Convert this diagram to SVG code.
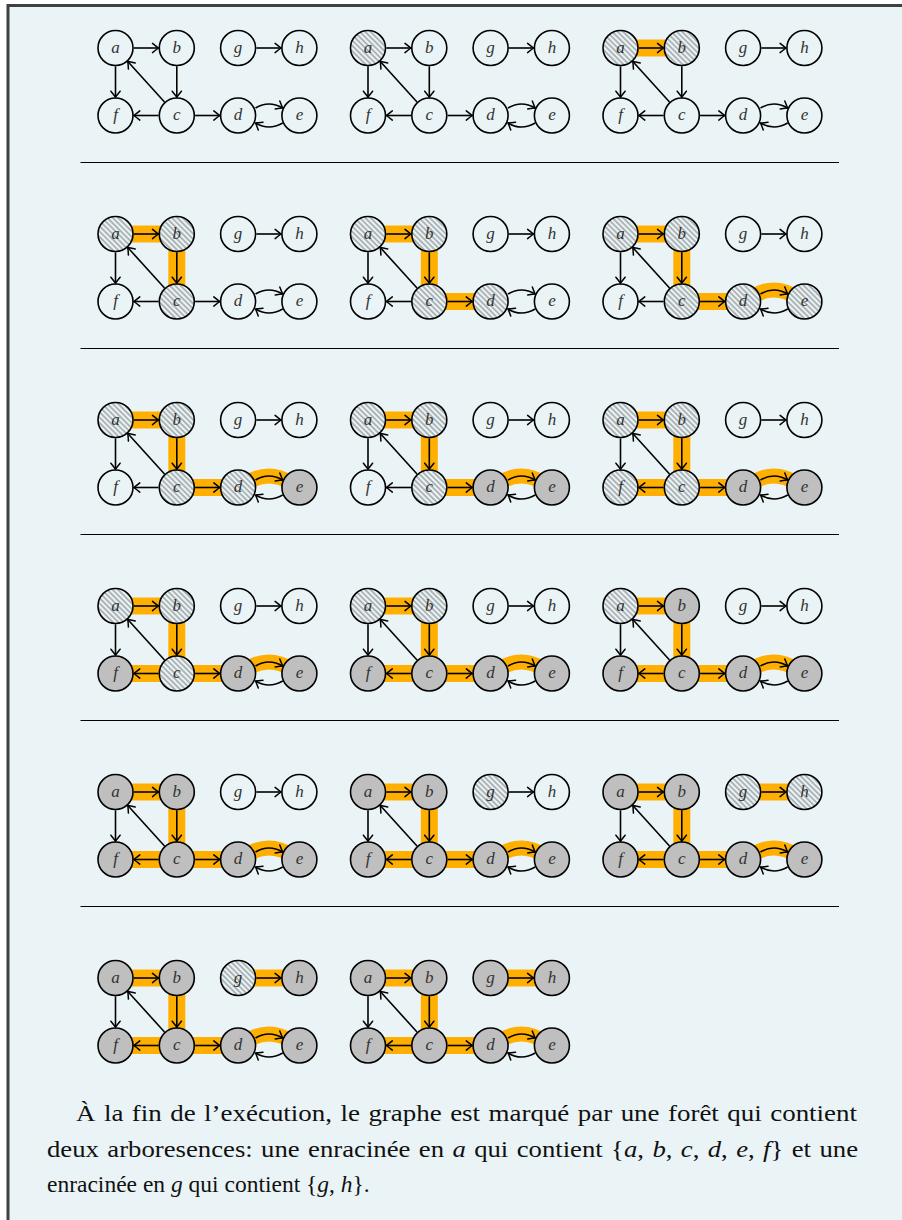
<svg xmlns="http://www.w3.org/2000/svg" width="902" height="1220" viewBox="0 0 902 1220">
<style>
.frame{fill:#EAF4F6;stroke:#404040;stroke-width:3}
.sep{stroke:#000;stroke-width:1.2}
.hl path{fill:none;stroke:#FFAF00;stroke-width:17;stroke-linecap:butt}
.hl path.cv{stroke-width:15}
circle{stroke:#000;stroke-width:1.6}
.nw{fill:#EAF4F6}
.nh{fill:url(#hatch)}
.ng{fill:#BFBFBF}
.lb{font-family:"Liberation Serif",serif;font-style:italic;font-size:17px;fill:#333;text-anchor:middle}
.connectors path{fill:none;stroke:#000;stroke-width:1.6;marker-end:url(#ar)}
.body{font-family:"Liberation Serif",serif;font-size:23.5px;fill:#111}
.just{word-spacing:1.5px}
.m{font-style:italic}
</style>
<defs>
<pattern id="hatch" patternUnits="userSpaceOnUse" width="3.8" height="3.8" patternTransform="rotate(45)">
<rect width="3.8" height="3.8" fill="#EAF4F6"/>
<line x1="0" y1="1.9" x2="3.8" y2="1.9" stroke="#5a5a5a" stroke-width="0.8"/>
</pattern>
<marker id="ar" markerUnits="userSpaceOnUse" markerWidth="12" markerHeight="12" refX="0" refY="0" orient="auto" overflow="visible">
<path d="M-6,-4.6 Q-1.8,-1.2 0,0 Q-1.8,1.2 -6,4.6" fill="none" stroke="#000" stroke-width="1.5" stroke-linecap="round"/>
</marker>
</defs>
<rect class="frame" x="8" y="5.5" width="1000" height="1300"/>
<g id="separators">
<line class="sep" x1="80.5" y1="162.5" x2="839" y2="162.5"/>
<line class="sep" x1="80.5" y1="348.5" x2="839" y2="348.5"/>
<line class="sep" x1="80.5" y1="534.5" x2="839" y2="534.5"/>
<line class="sep" x1="80.5" y1="720.5" x2="839" y2="720.5"/>
<line class="sep" x1="80.5" y1="906.5" x2="839" y2="906.5"/>
</g>

<!-- Panel 1 -->
<g id="panel1" transform="translate(115.5,48)">
<g class="hl"></g>
<g id="p1-a"><circle class="nw" cx="0" cy="0" r="17.5"/><text class="lb" x="0" y="4.5">a</text></g>
<g id="p1-b"><circle class="nw" cx="61.3" cy="0" r="17.5"/><text class="lb" x="61.3" y="4.5">b</text></g>
<g id="p1-g"><circle class="nw" cx="122.6" cy="0" r="17.5"/><text class="lb" x="122.6" y="4.5">g</text></g>
<g id="p1-h"><circle class="nw" cx="183.9" cy="0" r="17.5"/><text class="lb" x="183.9" y="4.5">h</text></g>
<g id="p1-f"><circle class="nw" cx="0" cy="67.5" r="17.5"/><text class="lb" x="0" y="72">f</text></g>
<g id="p1-c"><circle class="nw" cx="61.3" cy="67.5" r="17.5"/><text class="lb" x="61.3" y="72">c</text></g>
<g id="p1-d"><circle class="nw" cx="122.6" cy="67.5" r="17.5"/><text class="lb" x="122.6" y="72">d</text></g>
<g id="p1-e"><circle class="nw" cx="183.9" cy="67.5" r="17.5"/><text class="lb" x="183.9" y="72">e</text></g>
<g class="connectors" id="p1-edges">
<path d="M18.3,0H43"/><path d="M140.9,0H165.6"/><path d="M0,18.3V49.2"/><path d="M61.3,18.3V49.2"/><path d="M43,67.5H18.3"/><path d="M79.6,67.5H104.3"/><path d="M49,53.95L12.3,13.55"/><path d="M140,60Q153.3,52 167.2,60"/><path d="M167.2,75Q153.3,83 140,75"/>
</g>
</g>

<!-- Panel 2 -->
<g id="panel2" transform="translate(368,48)">
<g class="hl"></g>
<g id="p2-a"><circle class="nh" cx="0" cy="0" r="17.5"/><text class="lb" x="0" y="4.5">a</text></g>
<g id="p2-b"><circle class="nw" cx="61.3" cy="0" r="17.5"/><text class="lb" x="61.3" y="4.5">b</text></g>
<g id="p2-g"><circle class="nw" cx="122.6" cy="0" r="17.5"/><text class="lb" x="122.6" y="4.5">g</text></g>
<g id="p2-h"><circle class="nw" cx="183.9" cy="0" r="17.5"/><text class="lb" x="183.9" y="4.5">h</text></g>
<g id="p2-f"><circle class="nw" cx="0" cy="67.5" r="17.5"/><text class="lb" x="0" y="72">f</text></g>
<g id="p2-c"><circle class="nw" cx="61.3" cy="67.5" r="17.5"/><text class="lb" x="61.3" y="72">c</text></g>
<g id="p2-d"><circle class="nw" cx="122.6" cy="67.5" r="17.5"/><text class="lb" x="122.6" y="72">d</text></g>
<g id="p2-e"><circle class="nw" cx="183.9" cy="67.5" r="17.5"/><text class="lb" x="183.9" y="72">e</text></g>
<g class="connectors" id="p2-edges">
<path d="M18.3,0H43"/><path d="M140.9,0H165.6"/><path d="M0,18.3V49.2"/><path d="M61.3,18.3V49.2"/><path d="M43,67.5H18.3"/><path d="M79.6,67.5H104.3"/><path d="M49,53.95L12.3,13.55"/><path d="M140,60Q153.3,52 167.2,60"/><path d="M167.2,75Q153.3,83 140,75"/>
</g>
</g>

<!-- Panel 3 -->
<g id="panel3" transform="translate(620.5,48)">
<g class="hl"><path d="M0,0H61.3"/></g>
<g id="p3-a"><circle class="nh" cx="0" cy="0" r="17.5"/><text class="lb" x="0" y="4.5">a</text></g>
<g id="p3-b"><circle class="nh" cx="61.3" cy="0" r="17.5"/><text class="lb" x="61.3" y="4.5">b</text></g>
<g id="p3-g"><circle class="nw" cx="122.6" cy="0" r="17.5"/><text class="lb" x="122.6" y="4.5">g</text></g>
<g id="p3-h"><circle class="nw" cx="183.9" cy="0" r="17.5"/><text class="lb" x="183.9" y="4.5">h</text></g>
<g id="p3-f"><circle class="nw" cx="0" cy="67.5" r="17.5"/><text class="lb" x="0" y="72">f</text></g>
<g id="p3-c"><circle class="nw" cx="61.3" cy="67.5" r="17.5"/><text class="lb" x="61.3" y="72">c</text></g>
<g id="p3-d"><circle class="nw" cx="122.6" cy="67.5" r="17.5"/><text class="lb" x="122.6" y="72">d</text></g>
<g id="p3-e"><circle class="nw" cx="183.9" cy="67.5" r="17.5"/><text class="lb" x="183.9" y="72">e</text></g>
<g class="connectors" id="p3-edges">
<path d="M18.3,0H43"/><path d="M140.9,0H165.6"/><path d="M0,18.3V49.2"/><path d="M61.3,18.3V49.2"/><path d="M43,67.5H18.3"/><path d="M79.6,67.5H104.3"/><path d="M49,53.95L12.3,13.55"/><path d="M140,60Q153.3,52 167.2,60"/><path d="M167.2,75Q153.3,83 140,75"/>
</g>
</g>

<!-- Panel 4 -->
<g id="panel4" transform="translate(115.5,234)">
<g class="hl"><path d="M0,0H61.3"/><path d="M61.3,0V67.5"/></g>
<g id="p4-a"><circle class="nh" cx="0" cy="0" r="17.5"/><text class="lb" x="0" y="4.5">a</text></g>
<g id="p4-b"><circle class="nh" cx="61.3" cy="0" r="17.5"/><text class="lb" x="61.3" y="4.5">b</text></g>
<g id="p4-g"><circle class="nw" cx="122.6" cy="0" r="17.5"/><text class="lb" x="122.6" y="4.5">g</text></g>
<g id="p4-h"><circle class="nw" cx="183.9" cy="0" r="17.5"/><text class="lb" x="183.9" y="4.5">h</text></g>
<g id="p4-f"><circle class="nw" cx="0" cy="67.5" r="17.5"/><text class="lb" x="0" y="72">f</text></g>
<g id="p4-c"><circle class="nh" cx="61.3" cy="67.5" r="17.5"/><text class="lb" x="61.3" y="72">c</text></g>
<g id="p4-d"><circle class="nw" cx="122.6" cy="67.5" r="17.5"/><text class="lb" x="122.6" y="72">d</text></g>
<g id="p4-e"><circle class="nw" cx="183.9" cy="67.5" r="17.5"/><text class="lb" x="183.9" y="72">e</text></g>
<g class="connectors" id="p4-edges">
<path d="M18.3,0H43"/><path d="M140.9,0H165.6"/><path d="M0,18.3V49.2"/><path d="M61.3,18.3V49.2"/><path d="M43,67.5H18.3"/><path d="M79.6,67.5H104.3"/><path d="M49,53.95L12.3,13.55"/><path d="M140,60Q153.3,52 167.2,60"/><path d="M167.2,75Q153.3,83 140,75"/>
</g>
</g>

<!-- Panel 5 -->
<g id="panel5" transform="translate(368,234)">
<g class="hl"><path d="M0,0H61.3"/><path d="M61.3,0V67.5"/><path d="M61.3,67.5H122.6"/></g>
<g id="p5-a"><circle class="nh" cx="0" cy="0" r="17.5"/><text class="lb" x="0" y="4.5">a</text></g>
<g id="p5-b"><circle class="nh" cx="61.3" cy="0" r="17.5"/><text class="lb" x="61.3" y="4.5">b</text></g>
<g id="p5-g"><circle class="nw" cx="122.6" cy="0" r="17.5"/><text class="lb" x="122.6" y="4.5">g</text></g>
<g id="p5-h"><circle class="nw" cx="183.9" cy="0" r="17.5"/><text class="lb" x="183.9" y="4.5">h</text></g>
<g id="p5-f"><circle class="nw" cx="0" cy="67.5" r="17.5"/><text class="lb" x="0" y="72">f</text></g>
<g id="p5-c"><circle class="nh" cx="61.3" cy="67.5" r="17.5"/><text class="lb" x="61.3" y="72">c</text></g>
<g id="p5-d"><circle class="nh" cx="122.6" cy="67.5" r="17.5"/><text class="lb" x="122.6" y="72">d</text></g>
<g id="p5-e"><circle class="nw" cx="183.9" cy="67.5" r="17.5"/><text class="lb" x="183.9" y="72">e</text></g>
<g class="connectors" id="p5-edges">
<path d="M18.3,0H43"/><path d="M140.9,0H165.6"/><path d="M0,18.3V49.2"/><path d="M61.3,18.3V49.2"/><path d="M43,67.5H18.3"/><path d="M79.6,67.5H104.3"/><path d="M49,53.95L12.3,13.55"/><path d="M140,60Q153.3,52 167.2,60"/><path d="M167.2,75Q153.3,83 140,75"/>
</g>
</g>

<!-- Panel 6 -->
<g id="panel6" transform="translate(620.5,234)">
<g class="hl"><path d="M0,0H61.3"/><path d="M61.3,0V67.5"/><path d="M61.3,67.5H122.6"/><path class="cv" d="M130,63.5Q153.3,48.5 176.5,63.5"/></g>
<g id="p6-a"><circle class="nh" cx="0" cy="0" r="17.5"/><text class="lb" x="0" y="4.5">a</text></g>
<g id="p6-b"><circle class="nh" cx="61.3" cy="0" r="17.5"/><text class="lb" x="61.3" y="4.5">b</text></g>
<g id="p6-g"><circle class="nw" cx="122.6" cy="0" r="17.5"/><text class="lb" x="122.6" y="4.5">g</text></g>
<g id="p6-h"><circle class="nw" cx="183.9" cy="0" r="17.5"/><text class="lb" x="183.9" y="4.5">h</text></g>
<g id="p6-f"><circle class="nw" cx="0" cy="67.5" r="17.5"/><text class="lb" x="0" y="72">f</text></g>
<g id="p6-c"><circle class="nh" cx="61.3" cy="67.5" r="17.5"/><text class="lb" x="61.3" y="72">c</text></g>
<g id="p6-d"><circle class="nh" cx="122.6" cy="67.5" r="17.5"/><text class="lb" x="122.6" y="72">d</text></g>
<g id="p6-e"><circle class="nh" cx="183.9" cy="67.5" r="17.5"/><text class="lb" x="183.9" y="72">e</text></g>
<g class="connectors" id="p6-edges">
<path d="M18.3,0H43"/><path d="M140.9,0H165.6"/><path d="M0,18.3V49.2"/><path d="M61.3,18.3V49.2"/><path d="M43,67.5H18.3"/><path d="M79.6,67.5H104.3"/><path d="M49,53.95L12.3,13.55"/><path d="M140,60Q153.3,52 167.2,60"/><path d="M167.2,75Q153.3,83 140,75"/>
</g>
</g>

<!-- Panel 7 -->
<g id="panel7" transform="translate(115.5,420)">
<g class="hl"><path d="M0,0H61.3"/><path d="M61.3,0V67.5"/><path d="M61.3,67.5H122.6"/><path class="cv" d="M130,63.5Q153.3,48.5 176.5,63.5"/></g>
<g id="p7-a"><circle class="nh" cx="0" cy="0" r="17.5"/><text class="lb" x="0" y="4.5">a</text></g>
<g id="p7-b"><circle class="nh" cx="61.3" cy="0" r="17.5"/><text class="lb" x="61.3" y="4.5">b</text></g>
<g id="p7-g"><circle class="nw" cx="122.6" cy="0" r="17.5"/><text class="lb" x="122.6" y="4.5">g</text></g>
<g id="p7-h"><circle class="nw" cx="183.9" cy="0" r="17.5"/><text class="lb" x="183.9" y="4.5">h</text></g>
<g id="p7-f"><circle class="nw" cx="0" cy="67.5" r="17.5"/><text class="lb" x="0" y="72">f</text></g>
<g id="p7-c"><circle class="nh" cx="61.3" cy="67.5" r="17.5"/><text class="lb" x="61.3" y="72">c</text></g>
<g id="p7-d"><circle class="nh" cx="122.6" cy="67.5" r="17.5"/><text class="lb" x="122.6" y="72">d</text></g>
<g id="p7-e"><circle class="ng" cx="183.9" cy="67.5" r="17.5"/><text class="lb" x="183.9" y="72">e</text></g>
<g class="connectors" id="p7-edges">
<path d="M18.3,0H43"/><path d="M140.9,0H165.6"/><path d="M0,18.3V49.2"/><path d="M61.3,18.3V49.2"/><path d="M43,67.5H18.3"/><path d="M79.6,67.5H104.3"/><path d="M49,53.95L12.3,13.55"/><path d="M140,60Q153.3,52 167.2,60"/><path d="M167.2,75Q153.3,83 140,75"/>
</g>
</g>

<!-- Panel 8 -->
<g id="panel8" transform="translate(368,420)">
<g class="hl"><path d="M0,0H61.3"/><path d="M61.3,0V67.5"/><path d="M61.3,67.5H122.6"/><path class="cv" d="M130,63.5Q153.3,48.5 176.5,63.5"/></g>
<g id="p8-a"><circle class="nh" cx="0" cy="0" r="17.5"/><text class="lb" x="0" y="4.5">a</text></g>
<g id="p8-b"><circle class="nh" cx="61.3" cy="0" r="17.5"/><text class="lb" x="61.3" y="4.5">b</text></g>
<g id="p8-g"><circle class="nw" cx="122.6" cy="0" r="17.5"/><text class="lb" x="122.6" y="4.5">g</text></g>
<g id="p8-h"><circle class="nw" cx="183.9" cy="0" r="17.5"/><text class="lb" x="183.9" y="4.5">h</text></g>
<g id="p8-f"><circle class="nw" cx="0" cy="67.5" r="17.5"/><text class="lb" x="0" y="72">f</text></g>
<g id="p8-c"><circle class="nh" cx="61.3" cy="67.5" r="17.5"/><text class="lb" x="61.3" y="72">c</text></g>
<g id="p8-d"><circle class="ng" cx="122.6" cy="67.5" r="17.5"/><text class="lb" x="122.6" y="72">d</text></g>
<g id="p8-e"><circle class="ng" cx="183.9" cy="67.5" r="17.5"/><text class="lb" x="183.9" y="72">e</text></g>
<g class="connectors" id="p8-edges">
<path d="M18.3,0H43"/><path d="M140.9,0H165.6"/><path d="M0,18.3V49.2"/><path d="M61.3,18.3V49.2"/><path d="M43,67.5H18.3"/><path d="M79.6,67.5H104.3"/><path d="M49,53.95L12.3,13.55"/><path d="M140,60Q153.3,52 167.2,60"/><path d="M167.2,75Q153.3,83 140,75"/>
</g>
</g>

<!-- Panel 9 -->
<g id="panel9" transform="translate(620.5,420)">
<g class="hl"><path d="M0,0H61.3"/><path d="M61.3,0V67.5"/><path d="M61.3,67.5H122.6"/><path class="cv" d="M130,63.5Q153.3,48.5 176.5,63.5"/><path d="M61.3,67.5H0"/></g>
<g id="p9-a"><circle class="nh" cx="0" cy="0" r="17.5"/><text class="lb" x="0" y="4.5">a</text></g>
<g id="p9-b"><circle class="nh" cx="61.3" cy="0" r="17.5"/><text class="lb" x="61.3" y="4.5">b</text></g>
<g id="p9-g"><circle class="nw" cx="122.6" cy="0" r="17.5"/><text class="lb" x="122.6" y="4.5">g</text></g>
<g id="p9-h"><circle class="nw" cx="183.9" cy="0" r="17.5"/><text class="lb" x="183.9" y="4.5">h</text></g>
<g id="p9-f"><circle class="nh" cx="0" cy="67.5" r="17.5"/><text class="lb" x="0" y="72">f</text></g>
<g id="p9-c"><circle class="nh" cx="61.3" cy="67.5" r="17.5"/><text class="lb" x="61.3" y="72">c</text></g>
<g id="p9-d"><circle class="ng" cx="122.6" cy="67.5" r="17.5"/><text class="lb" x="122.6" y="72">d</text></g>
<g id="p9-e"><circle class="ng" cx="183.9" cy="67.5" r="17.5"/><text class="lb" x="183.9" y="72">e</text></g>
<g class="connectors" id="p9-edges">
<path d="M18.3,0H43"/><path d="M140.9,0H165.6"/><path d="M0,18.3V49.2"/><path d="M61.3,18.3V49.2"/><path d="M43,67.5H18.3"/><path d="M79.6,67.5H104.3"/><path d="M49,53.95L12.3,13.55"/><path d="M140,60Q153.3,52 167.2,60"/><path d="M167.2,75Q153.3,83 140,75"/>
</g>
</g>

<!-- Panel 10 -->
<g id="panel10" transform="translate(115.5,606)">
<g class="hl"><path d="M0,0H61.3"/><path d="M61.3,0V67.5"/><path d="M61.3,67.5H122.6"/><path class="cv" d="M130,63.5Q153.3,48.5 176.5,63.5"/><path d="M61.3,67.5H0"/></g>
<g id="p10-a"><circle class="nh" cx="0" cy="0" r="17.5"/><text class="lb" x="0" y="4.5">a</text></g>
<g id="p10-b"><circle class="nh" cx="61.3" cy="0" r="17.5"/><text class="lb" x="61.3" y="4.5">b</text></g>
<g id="p10-g"><circle class="nw" cx="122.6" cy="0" r="17.5"/><text class="lb" x="122.6" y="4.5">g</text></g>
<g id="p10-h"><circle class="nw" cx="183.9" cy="0" r="17.5"/><text class="lb" x="183.9" y="4.5">h</text></g>
<g id="p10-f"><circle class="ng" cx="0" cy="67.5" r="17.5"/><text class="lb" x="0" y="72">f</text></g>
<g id="p10-c"><circle class="nh" cx="61.3" cy="67.5" r="17.5"/><text class="lb" x="61.3" y="72">c</text></g>
<g id="p10-d"><circle class="ng" cx="122.6" cy="67.5" r="17.5"/><text class="lb" x="122.6" y="72">d</text></g>
<g id="p10-e"><circle class="ng" cx="183.9" cy="67.5" r="17.5"/><text class="lb" x="183.9" y="72">e</text></g>
<g class="connectors" id="p10-edges">
<path d="M18.3,0H43"/><path d="M140.9,0H165.6"/><path d="M0,18.3V49.2"/><path d="M61.3,18.3V49.2"/><path d="M43,67.5H18.3"/><path d="M79.6,67.5H104.3"/><path d="M49,53.95L12.3,13.55"/><path d="M140,60Q153.3,52 167.2,60"/><path d="M167.2,75Q153.3,83 140,75"/>
</g>
</g>

<!-- Panel 11 -->
<g id="panel11" transform="translate(368,606)">
<g class="hl"><path d="M0,0H61.3"/><path d="M61.3,0V67.5"/><path d="M61.3,67.5H122.6"/><path class="cv" d="M130,63.5Q153.3,48.5 176.5,63.5"/><path d="M61.3,67.5H0"/></g>
<g id="p11-a"><circle class="nh" cx="0" cy="0" r="17.5"/><text class="lb" x="0" y="4.5">a</text></g>
<g id="p11-b"><circle class="nh" cx="61.3" cy="0" r="17.5"/><text class="lb" x="61.3" y="4.5">b</text></g>
<g id="p11-g"><circle class="nw" cx="122.6" cy="0" r="17.5"/><text class="lb" x="122.6" y="4.5">g</text></g>
<g id="p11-h"><circle class="nw" cx="183.9" cy="0" r="17.5"/><text class="lb" x="183.9" y="4.5">h</text></g>
<g id="p11-f"><circle class="ng" cx="0" cy="67.5" r="17.5"/><text class="lb" x="0" y="72">f</text></g>
<g id="p11-c"><circle class="ng" cx="61.3" cy="67.5" r="17.5"/><text class="lb" x="61.3" y="72">c</text></g>
<g id="p11-d"><circle class="ng" cx="122.6" cy="67.5" r="17.5"/><text class="lb" x="122.6" y="72">d</text></g>
<g id="p11-e"><circle class="ng" cx="183.9" cy="67.5" r="17.5"/><text class="lb" x="183.9" y="72">e</text></g>
<g class="connectors" id="p11-edges">
<path d="M18.3,0H43"/><path d="M140.9,0H165.6"/><path d="M0,18.3V49.2"/><path d="M61.3,18.3V49.2"/><path d="M43,67.5H18.3"/><path d="M79.6,67.5H104.3"/><path d="M49,53.95L12.3,13.55"/><path d="M140,60Q153.3,52 167.2,60"/><path d="M167.2,75Q153.3,83 140,75"/>
</g>
</g>

<!-- Panel 12 -->
<g id="panel12" transform="translate(620.5,606)">
<g class="hl"><path d="M0,0H61.3"/><path d="M61.3,0V67.5"/><path d="M61.3,67.5H122.6"/><path class="cv" d="M130,63.5Q153.3,48.5 176.5,63.5"/><path d="M61.3,67.5H0"/></g>
<g id="p12-a"><circle class="nh" cx="0" cy="0" r="17.5"/><text class="lb" x="0" y="4.5">a</text></g>
<g id="p12-b"><circle class="ng" cx="61.3" cy="0" r="17.5"/><text class="lb" x="61.3" y="4.5">b</text></g>
<g id="p12-g"><circle class="nw" cx="122.6" cy="0" r="17.5"/><text class="lb" x="122.6" y="4.5">g</text></g>
<g id="p12-h"><circle class="nw" cx="183.9" cy="0" r="17.5"/><text class="lb" x="183.9" y="4.5">h</text></g>
<g id="p12-f"><circle class="ng" cx="0" cy="67.5" r="17.5"/><text class="lb" x="0" y="72">f</text></g>
<g id="p12-c"><circle class="ng" cx="61.3" cy="67.5" r="17.5"/><text class="lb" x="61.3" y="72">c</text></g>
<g id="p12-d"><circle class="ng" cx="122.6" cy="67.5" r="17.5"/><text class="lb" x="122.6" y="72">d</text></g>
<g id="p12-e"><circle class="ng" cx="183.9" cy="67.5" r="17.5"/><text class="lb" x="183.9" y="72">e</text></g>
<g class="connectors" id="p12-edges">
<path d="M18.3,0H43"/><path d="M140.9,0H165.6"/><path d="M0,18.3V49.2"/><path d="M61.3,18.3V49.2"/><path d="M43,67.5H18.3"/><path d="M79.6,67.5H104.3"/><path d="M49,53.95L12.3,13.55"/><path d="M140,60Q153.3,52 167.2,60"/><path d="M167.2,75Q153.3,83 140,75"/>
</g>
</g>

<!-- Panel 13 -->
<g id="panel13" transform="translate(115.5,792)">
<g class="hl"><path d="M0,0H61.3"/><path d="M61.3,0V67.5"/><path d="M61.3,67.5H122.6"/><path class="cv" d="M130,63.5Q153.3,48.5 176.5,63.5"/><path d="M61.3,67.5H0"/></g>
<g id="p13-a"><circle class="ng" cx="0" cy="0" r="17.5"/><text class="lb" x="0" y="4.5">a</text></g>
<g id="p13-b"><circle class="ng" cx="61.3" cy="0" r="17.5"/><text class="lb" x="61.3" y="4.5">b</text></g>
<g id="p13-g"><circle class="nw" cx="122.6" cy="0" r="17.5"/><text class="lb" x="122.6" y="4.5">g</text></g>
<g id="p13-h"><circle class="nw" cx="183.9" cy="0" r="17.5"/><text class="lb" x="183.9" y="4.5">h</text></g>
<g id="p13-f"><circle class="ng" cx="0" cy="67.5" r="17.5"/><text class="lb" x="0" y="72">f</text></g>
<g id="p13-c"><circle class="ng" cx="61.3" cy="67.5" r="17.5"/><text class="lb" x="61.3" y="72">c</text></g>
<g id="p13-d"><circle class="ng" cx="122.6" cy="67.5" r="17.5"/><text class="lb" x="122.6" y="72">d</text></g>
<g id="p13-e"><circle class="ng" cx="183.9" cy="67.5" r="17.5"/><text class="lb" x="183.9" y="72">e</text></g>
<g class="connectors" id="p13-edges">
<path d="M18.3,0H43"/><path d="M140.9,0H165.6"/><path d="M0,18.3V49.2"/><path d="M61.3,18.3V49.2"/><path d="M43,67.5H18.3"/><path d="M79.6,67.5H104.3"/><path d="M49,53.95L12.3,13.55"/><path d="M140,60Q153.3,52 167.2,60"/><path d="M167.2,75Q153.3,83 140,75"/>
</g>
</g>

<!-- Panel 14 -->
<g id="panel14" transform="translate(368,792)">
<g class="hl"><path d="M0,0H61.3"/><path d="M61.3,0V67.5"/><path d="M61.3,67.5H122.6"/><path class="cv" d="M130,63.5Q153.3,48.5 176.5,63.5"/><path d="M61.3,67.5H0"/></g>
<g id="p14-a"><circle class="ng" cx="0" cy="0" r="17.5"/><text class="lb" x="0" y="4.5">a</text></g>
<g id="p14-b"><circle class="ng" cx="61.3" cy="0" r="17.5"/><text class="lb" x="61.3" y="4.5">b</text></g>
<g id="p14-g"><circle class="nh" cx="122.6" cy="0" r="17.5"/><text class="lb" x="122.6" y="4.5">g</text></g>
<g id="p14-h"><circle class="nw" cx="183.9" cy="0" r="17.5"/><text class="lb" x="183.9" y="4.5">h</text></g>
<g id="p14-f"><circle class="ng" cx="0" cy="67.5" r="17.5"/><text class="lb" x="0" y="72">f</text></g>
<g id="p14-c"><circle class="ng" cx="61.3" cy="67.5" r="17.5"/><text class="lb" x="61.3" y="72">c</text></g>
<g id="p14-d"><circle class="ng" cx="122.6" cy="67.5" r="17.5"/><text class="lb" x="122.6" y="72">d</text></g>
<g id="p14-e"><circle class="ng" cx="183.9" cy="67.5" r="17.5"/><text class="lb" x="183.9" y="72">e</text></g>
<g class="connectors" id="p14-edges">
<path d="M18.3,0H43"/><path d="M140.9,0H165.6"/><path d="M0,18.3V49.2"/><path d="M61.3,18.3V49.2"/><path d="M43,67.5H18.3"/><path d="M79.6,67.5H104.3"/><path d="M49,53.95L12.3,13.55"/><path d="M140,60Q153.3,52 167.2,60"/><path d="M167.2,75Q153.3,83 140,75"/>
</g>
</g>

<!-- Panel 15 -->
<g id="panel15" transform="translate(620.5,792)">
<g class="hl"><path d="M0,0H61.3"/><path d="M61.3,0V67.5"/><path d="M61.3,67.5H122.6"/><path class="cv" d="M130,63.5Q153.3,48.5 176.5,63.5"/><path d="M61.3,67.5H0"/><path d="M122.6,0H183.9"/></g>
<g id="p15-a"><circle class="ng" cx="0" cy="0" r="17.5"/><text class="lb" x="0" y="4.5">a</text></g>
<g id="p15-b"><circle class="ng" cx="61.3" cy="0" r="17.5"/><text class="lb" x="61.3" y="4.5">b</text></g>
<g id="p15-g"><circle class="nh" cx="122.6" cy="0" r="17.5"/><text class="lb" x="122.6" y="4.5">g</text></g>
<g id="p15-h"><circle class="nh" cx="183.9" cy="0" r="17.5"/><text class="lb" x="183.9" y="4.5">h</text></g>
<g id="p15-f"><circle class="ng" cx="0" cy="67.5" r="17.5"/><text class="lb" x="0" y="72">f</text></g>
<g id="p15-c"><circle class="ng" cx="61.3" cy="67.5" r="17.5"/><text class="lb" x="61.3" y="72">c</text></g>
<g id="p15-d"><circle class="ng" cx="122.6" cy="67.5" r="17.5"/><text class="lb" x="122.6" y="72">d</text></g>
<g id="p15-e"><circle class="ng" cx="183.9" cy="67.5" r="17.5"/><text class="lb" x="183.9" y="72">e</text></g>
<g class="connectors" id="p15-edges">
<path d="M18.3,0H43"/><path d="M140.9,0H165.6"/><path d="M0,18.3V49.2"/><path d="M61.3,18.3V49.2"/><path d="M43,67.5H18.3"/><path d="M79.6,67.5H104.3"/><path d="M49,53.95L12.3,13.55"/><path d="M140,60Q153.3,52 167.2,60"/><path d="M167.2,75Q153.3,83 140,75"/>
</g>
</g>

<!-- Panel 16 -->
<g id="panel16" transform="translate(115.5,978)">
<g class="hl"><path d="M0,0H61.3"/><path d="M61.3,0V67.5"/><path d="M61.3,67.5H122.6"/><path class="cv" d="M130,63.5Q153.3,48.5 176.5,63.5"/><path d="M61.3,67.5H0"/><path d="M122.6,0H183.9"/></g>
<g id="p16-a"><circle class="ng" cx="0" cy="0" r="17.5"/><text class="lb" x="0" y="4.5">a</text></g>
<g id="p16-b"><circle class="ng" cx="61.3" cy="0" r="17.5"/><text class="lb" x="61.3" y="4.5">b</text></g>
<g id="p16-g"><circle class="nh" cx="122.6" cy="0" r="17.5"/><text class="lb" x="122.6" y="4.5">g</text></g>
<g id="p16-h"><circle class="ng" cx="183.9" cy="0" r="17.5"/><text class="lb" x="183.9" y="4.5">h</text></g>
<g id="p16-f"><circle class="ng" cx="0" cy="67.5" r="17.5"/><text class="lb" x="0" y="72">f</text></g>
<g id="p16-c"><circle class="ng" cx="61.3" cy="67.5" r="17.5"/><text class="lb" x="61.3" y="72">c</text></g>
<g id="p16-d"><circle class="ng" cx="122.6" cy="67.5" r="17.5"/><text class="lb" x="122.6" y="72">d</text></g>
<g id="p16-e"><circle class="ng" cx="183.9" cy="67.5" r="17.5"/><text class="lb" x="183.9" y="72">e</text></g>
<g class="connectors" id="p16-edges">
<path d="M18.3,0H43"/><path d="M140.9,0H165.6"/><path d="M0,18.3V49.2"/><path d="M61.3,18.3V49.2"/><path d="M43,67.5H18.3"/><path d="M79.6,67.5H104.3"/><path d="M49,53.95L12.3,13.55"/><path d="M140,60Q153.3,52 167.2,60"/><path d="M167.2,75Q153.3,83 140,75"/>
</g>
</g>

<!-- Panel 17 -->
<g id="panel17" transform="translate(368,978)">
<g class="hl"><path d="M0,0H61.3"/><path d="M61.3,0V67.5"/><path d="M61.3,67.5H122.6"/><path class="cv" d="M130,63.5Q153.3,48.5 176.5,63.5"/><path d="M61.3,67.5H0"/><path d="M122.6,0H183.9"/></g>
<g id="p17-a"><circle class="ng" cx="0" cy="0" r="17.5"/><text class="lb" x="0" y="4.5">a</text></g>
<g id="p17-b"><circle class="ng" cx="61.3" cy="0" r="17.5"/><text class="lb" x="61.3" y="4.5">b</text></g>
<g id="p17-g"><circle class="ng" cx="122.6" cy="0" r="17.5"/><text class="lb" x="122.6" y="4.5">g</text></g>
<g id="p17-h"><circle class="ng" cx="183.9" cy="0" r="17.5"/><text class="lb" x="183.9" y="4.5">h</text></g>
<g id="p17-f"><circle class="ng" cx="0" cy="67.5" r="17.5"/><text class="lb" x="0" y="72">f</text></g>
<g id="p17-c"><circle class="ng" cx="61.3" cy="67.5" r="17.5"/><text class="lb" x="61.3" y="72">c</text></g>
<g id="p17-d"><circle class="ng" cx="122.6" cy="67.5" r="17.5"/><text class="lb" x="122.6" y="72">d</text></g>
<g id="p17-e"><circle class="ng" cx="183.9" cy="67.5" r="17.5"/><text class="lb" x="183.9" y="72">e</text></g>
<g class="connectors" id="p17-edges">
<path d="M18.3,0H43"/><path d="M140.9,0H165.6"/><path d="M0,18.3V49.2"/><path d="M61.3,18.3V49.2"/><path d="M43,67.5H18.3"/><path d="M79.6,67.5H104.3"/><path d="M49,53.95L12.3,13.55"/><path d="M140,60Q153.3,52 167.2,60"/><path d="M167.2,75Q153.3,83 140,75"/>
</g>
</g>

<g id="caption">
<text class="body just" x="76" y="1121" textLength="781" lengthAdjust="spacingAndGlyphs">À la fin de l’exécution, le graphe est marqué par une forêt qui contient</text>
<text class="body just" x="47" y="1157" textLength="811" lengthAdjust="spacingAndGlyphs">deux arboresences: une enracinée en <tspan class="m">a</tspan> qui contient {<tspan class="m">a</tspan>, <tspan class="m">b</tspan>, <tspan class="m">c</tspan>, <tspan class="m">d</tspan>, <tspan class="m">e</tspan>, <tspan class="m">f</tspan>} et une</text>
<text class="body" x="47" y="1192">enracinée en <tspan class="m">g</tspan> qui contient {<tspan class="m">g</tspan>, <tspan class="m">h</tspan>}.</text>
</g>
</svg>
